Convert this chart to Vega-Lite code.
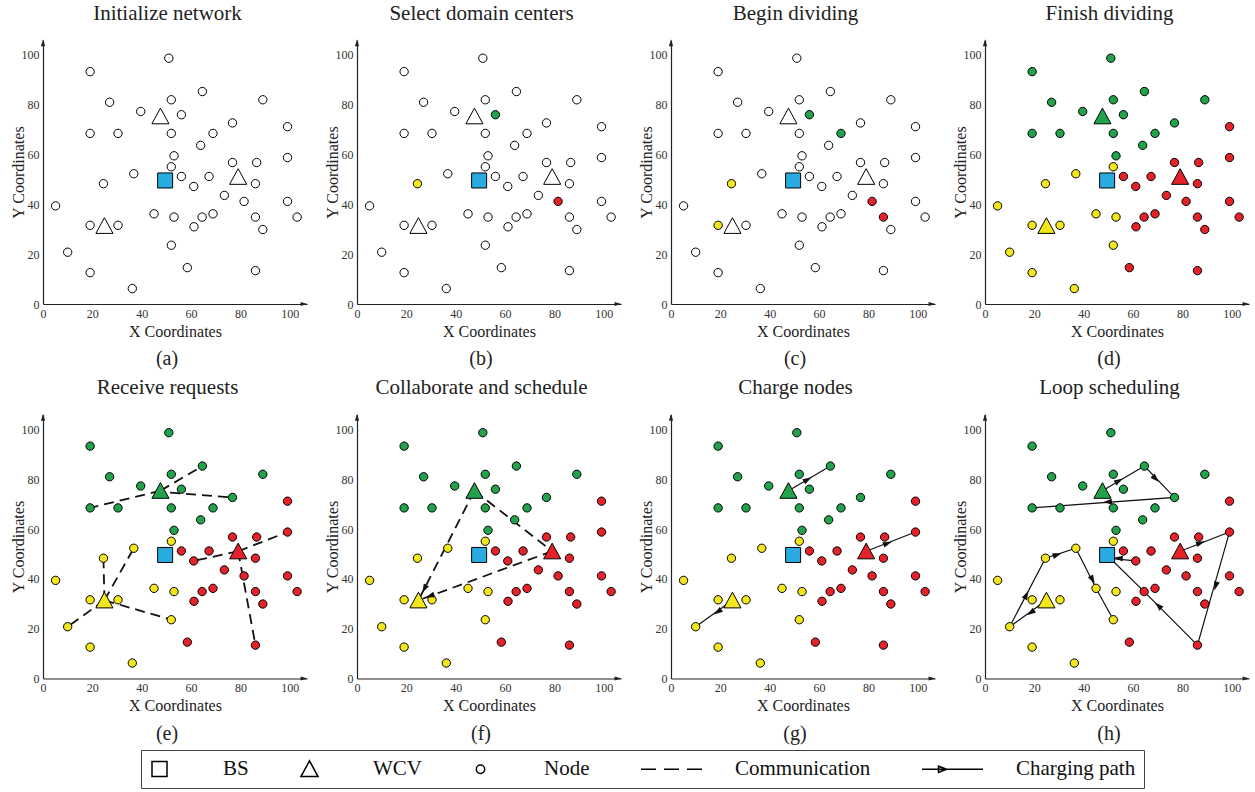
{
  "$schema": "https://vega.github.io/schema/vega-lite/v6.json",
  "background": "white",
  "padding": {"left": 10, "top": 2, "right": 2, "bottom": 1},
  "datasets": {
    "points": [
      {"kind": "BS", "domain": "base", "step": 0, "x": 49.5, "y": 49.6},
      {"kind": "WCV", "domain": "green", "step": 3, "x": 47.6, "y": 75.4},
      {"kind": "WCV", "domain": "yellow", "step": 3, "x": 24.9, "y": 31.4},
      {"kind": "WCV", "domain": "red", "step": 3, "x": 79.1, "y": 51.1},
      {"kind": "Node", "domain": "green", "step": 3, "x": 51.0, "y": 98.7},
      {"kind": "Node", "domain": "green", "step": 3, "x": 19.1, "y": 93.3},
      {"kind": "Node", "domain": "green", "step": 3, "x": 64.6, "y": 85.3},
      {"kind": "Node", "domain": "green", "step": 3, "x": 27.0, "y": 81.0},
      {"kind": "Node", "domain": "green", "step": 3, "x": 52.0, "y": 82.0},
      {"kind": "Node", "domain": "green", "step": 3, "x": 89.1, "y": 82.0},
      {"kind": "Node", "domain": "green", "step": 3, "x": 39.6, "y": 77.3},
      {"kind": "Node", "domain": "green", "step": 1, "x": 56.1, "y": 76.0},
      {"kind": "Node", "domain": "green", "step": 3, "x": 76.8, "y": 72.7},
      {"kind": "Node", "domain": "green", "step": 3, "x": 19.1, "y": 68.5},
      {"kind": "Node", "domain": "green", "step": 3, "x": 30.4, "y": 68.5},
      {"kind": "Node", "domain": "green", "step": 3, "x": 52.0, "y": 68.5},
      {"kind": "Node", "domain": "green", "step": 2, "x": 68.9, "y": 68.5},
      {"kind": "Node", "domain": "green", "step": 3, "x": 63.9, "y": 63.7},
      {"kind": "Node", "domain": "green", "step": 3, "x": 53.1, "y": 59.5},
      {"kind": "Node", "domain": "yellow", "step": 3, "x": 52.0, "y": 55.1},
      {"kind": "Node", "domain": "yellow", "step": 3, "x": 36.8, "y": 52.3},
      {"kind": "Node", "domain": "yellow", "step": 1, "x": 24.5, "y": 48.3},
      {"kind": "Node", "domain": "yellow", "step": 3, "x": 5.1, "y": 39.4},
      {"kind": "Node", "domain": "yellow", "step": 3, "x": 45.0, "y": 36.2},
      {"kind": "Node", "domain": "yellow", "step": 3, "x": 53.1, "y": 34.9},
      {"kind": "Node", "domain": "yellow", "step": 2, "x": 19.1, "y": 31.6},
      {"kind": "Node", "domain": "yellow", "step": 3, "x": 30.4, "y": 31.6},
      {"kind": "Node", "domain": "yellow", "step": 3, "x": 52.0, "y": 23.6},
      {"kind": "Node", "domain": "yellow", "step": 3, "x": 10.0, "y": 20.8},
      {"kind": "Node", "domain": "yellow", "step": 3, "x": 19.1, "y": 12.6},
      {"kind": "Node", "domain": "yellow", "step": 3, "x": 36.2, "y": 6.2},
      {"kind": "Node", "domain": "red", "step": 3, "x": 99.1, "y": 71.2},
      {"kind": "Node", "domain": "red", "step": 3, "x": 99.1, "y": 58.8},
      {"kind": "Node", "domain": "red", "step": 3, "x": 76.8, "y": 56.8},
      {"kind": "Node", "domain": "red", "step": 3, "x": 86.6, "y": 56.8},
      {"kind": "Node", "domain": "red", "step": 3, "x": 56.1, "y": 51.2},
      {"kind": "Node", "domain": "red", "step": 3, "x": 67.3, "y": 51.2},
      {"kind": "Node", "domain": "red", "step": 3, "x": 86.1, "y": 48.3},
      {"kind": "Node", "domain": "red", "step": 3, "x": 61.1, "y": 47.2},
      {"kind": "Node", "domain": "red", "step": 3, "x": 73.5, "y": 43.6},
      {"kind": "Node", "domain": "red", "step": 1, "x": 81.5, "y": 41.2},
      {"kind": "Node", "domain": "red", "step": 3, "x": 99.1, "y": 41.2},
      {"kind": "Node", "domain": "red", "step": 3, "x": 68.9, "y": 36.2},
      {"kind": "Node", "domain": "red", "step": 3, "x": 64.5, "y": 34.9},
      {"kind": "Node", "domain": "red", "step": 2, "x": 86.1, "y": 34.9},
      {"kind": "Node", "domain": "red", "step": 3, "x": 103.0, "y": 34.9},
      {"kind": "Node", "domain": "red", "step": 3, "x": 61.2, "y": 31.0},
      {"kind": "Node", "domain": "red", "step": 3, "x": 89.1, "y": 29.9},
      {"kind": "Node", "domain": "red", "step": 3, "x": 58.5, "y": 14.6},
      {"kind": "Node", "domain": "red", "step": 3, "x": 86.1, "y": 13.4}
    ],
    "comm": [
      {"panel": "e", "seg": "g1", "ord": 0, "x": 47.6, "y": 75.4}, {"panel": "e", "seg": "g1", "ord": 1, "x": 19.1, "y": 68.5},
      {"panel": "e", "seg": "g2", "ord": 0, "x": 47.6, "y": 75.4}, {"panel": "e", "seg": "g2", "ord": 1, "x": 64.6, "y": 85.3},
      {"panel": "e", "seg": "g3", "ord": 0, "x": 51.5, "y": 74.6}, {"panel": "e", "seg": "g3", "ord": 1, "x": 76.8, "y": 72.7},
      {"panel": "e", "seg": "y1", "ord": 0, "x": 24.9, "y": 31.4}, {"panel": "e", "seg": "y1", "ord": 1, "x": 24.5, "y": 48.3},
      {"panel": "e", "seg": "y2", "ord": 0, "x": 24.9, "y": 31.4}, {"panel": "e", "seg": "y2", "ord": 1, "x": 36.8, "y": 52.3},
      {"panel": "e", "seg": "y3", "ord": 0, "x": 24.9, "y": 31.4}, {"panel": "e", "seg": "y3", "ord": 1, "x": 10.0, "y": 20.8},
      {"panel": "e", "seg": "y4", "ord": 0, "x": 24.9, "y": 31.4}, {"panel": "e", "seg": "y4", "ord": 1, "x": 52.0, "y": 23.6},
      {"panel": "e", "seg": "r1", "ord": 0, "x": 79.1, "y": 51.1}, {"panel": "e", "seg": "r1", "ord": 1, "x": 61.1, "y": 47.2},
      {"panel": "e", "seg": "r2", "ord": 0, "x": 79.1, "y": 51.1}, {"panel": "e", "seg": "r2", "ord": 1, "x": 99.1, "y": 58.8},
      {"panel": "e", "seg": "r3", "ord": 0, "x": 79.1, "y": 51.1}, {"panel": "e", "seg": "r3", "ord": 1, "x": 86.1, "y": 13.4},
      {"panel": "f", "seg": "t1", "ord": 0, "x": 47.6, "y": 75.4}, {"panel": "f", "seg": "t1", "ord": 1, "x": 79.1, "y": 51.1},
      {"panel": "f", "seg": "t2", "ord": 0, "x": 47.6, "y": 75.4}, {"panel": "f", "seg": "t2", "ord": 1, "x": 24.9, "y": 31.4},
      {"panel": "f", "seg": "t3", "ord": 0, "x": 79.1, "y": 51.1}, {"panel": "f", "seg": "t3", "ord": 1, "x": 24.9, "y": 31.4}
    ],
    "paths": [
      {"panel": "g", "seg": "g", "ord": 0, "x": 47.6, "y": 75.4}, {"panel": "g", "seg": "g", "ord": 1, "x": 64.6, "y": 85.3},
      {"panel": "g", "seg": "r", "ord": 0, "x": 79.1, "y": 51.1}, {"panel": "g", "seg": "r", "ord": 1, "x": 99.1, "y": 58.8},
      {"panel": "g", "seg": "y", "ord": 0, "x": 24.9, "y": 31.4}, {"panel": "g", "seg": "y", "ord": 1, "x": 10.0, "y": 20.8},
      {"panel": "h", "seg": "g", "ord": 0, "x": 47.6, "y": 75.4}, {"panel": "h", "seg": "g", "ord": 1, "x": 64.6, "y": 85.3},
      {"panel": "h", "seg": "g", "ord": 2, "x": 76.8, "y": 72.7}, {"panel": "h", "seg": "g", "ord": 3, "x": 19.1, "y": 68.5},
      {"panel": "h", "seg": "r", "ord": 0, "x": 79.1, "y": 51.1}, {"panel": "h", "seg": "r", "ord": 1, "x": 99.1, "y": 58.8},
      {"panel": "h", "seg": "r", "ord": 2, "x": 86.1, "y": 13.4}, {"panel": "h", "seg": "r", "ord": 3, "x": 64.5, "y": 34.9},
      {"panel": "h", "seg": "r", "ord": 4, "x": 50.5, "y": 48.5},
      {"panel": "h", "seg": "r2", "ord": 0, "x": 61.1, "y": 47.2}, {"panel": "h", "seg": "r2", "ord": 1, "x": 50.5, "y": 48.2},
      {"panel": "h", "seg": "y", "ord": 0, "x": 24.9, "y": 31.4}, {"panel": "h", "seg": "y", "ord": 1, "x": 10.0, "y": 20.8},
      {"panel": "h", "seg": "y", "ord": 2, "x": 24.5, "y": 48.3}, {"panel": "h", "seg": "y", "ord": 3, "x": 36.8, "y": 52.3},
      {"panel": "h", "seg": "y", "ord": 4, "x": 45.0, "y": 36.2}, {"panel": "h", "seg": "y", "ord": 5, "x": 52.0, "y": 23.6}
    ],
    "heads": [
      {"panel": "f", "x": 27.3, "y": 36.0, "heading": 117},
      {"panel": "f", "x": 29.6, "y": 33.1, "heading": 160},
      {"panel": "g", "x": 55.4, "y": 79.9, "heading": -30},
      {"panel": "g", "x": 87.8, "y": 54.3, "heading": -21},
      {"panel": "g", "x": 18.9, "y": 26.7, "heading": 145},
      {"panel": "h", "x": 54.3, "y": 79.4, "heading": -30},
      {"panel": "h", "x": 69.2, "y": 80.2, "heading": 45},
      {"panel": "h", "x": 49.6, "y": 70.9, "heading": 176},
      {"panel": "h", "x": 87.4, "y": 54.5, "heading": -21},
      {"panel": "h", "x": 93.5, "y": 37.1, "heading": 106},
      {"panel": "h", "x": 70.2, "y": 29.3, "heading": -136},
      {"panel": "h", "x": 54.0, "y": 48.3, "heading": -175},
      {"panel": "h", "x": 18.5, "y": 26.4, "heading": 145},
      {"panel": "h", "x": 16.8, "y": 33.6, "heading": -62},
      {"panel": "h", "x": 29.3, "y": 49.7, "heading": -18},
      {"panel": "h", "x": 43.6, "y": 39.6, "heading": 62}
    ],
    "tips": [
      {"x": 105.8, "y": 0, "heading": 0},
      {"x": 0, "y": 104.9, "heading": -90}
    ]
  },
  "columns": 4,
  "spacing": {"row": 110.5, "column": 50},
  "bounds": "flush",
  "concat": [
    {
      "width": 264, "height": 264,
      "title": {"text": "(a)", "orient": "bottom"},
      "resolve": {"axis": {"x": "independent"}},
      "encoding": {
        "x": {"field": "x", "type": "quantitative", "scale": {"domain": [0, 107], "nice": false, "zero": false}, "axis": null},
        "y": {"field": "y", "type": "quantitative", "scale": {"domain": [0, 106], "nice": false, "zero": false}, "axis": {"values": [0, 20, 40, 60, 80, 100], "title": "Y Coordinates"}}
      },
      "layer": [
        {"data": {"name": "points"}, "transform": [{"filter": "datum.kind === 'Node'"}], "mark": {"type": "point", "filled": true, "size": 361, "strokeWidth": 0, "opacity": 1, "shape": "M-0.44,0A0.44,0.44,0,1,1,0.44,0A0.44,0.44,0,1,1,-0.44,0Z"},
         "encoding": {
           "x": {"field": "x", "type": "quantitative", "axis": {"orient": "bottom", "values": [0, 20, 40, 60, 80, 100], "title": "X Coordinates"}},
           "fill": {"condition": {"test": "datum.step <= 0", "field": "domain", "type": "nominal", "scale": {"domain": ["base", "green", "yellow", "red"], "range": ["#29abe2", "#21a24b", "#f3e61c", "#e5222a"]}, "legend": null}, "value": "white"}
         }},
        {"data": {"name": "points"}, "transform": [{"filter": "datum.kind === 'WCV'"}], "mark": {"type": "point", "filled": true, "size": 361, "strokeWidth": 0, "opacity": 1, "shape": "M0,-0.85L0.9,0.8L-0.9,0.8Z"},
         "encoding": {"fill": {"condition": {"test": "datum.step <= 0", "field": "domain", "type": "nominal", "legend": null}, "value": "white"}}},
        {"data": {"name": "points"}, "transform": [{"filter": "datum.kind === 'BS'"}], "mark": {"type": "point", "filled": true, "size": 361, "strokeWidth": 0, "opacity": 1, "shape": "M-0.79,-0.79H0.79V0.79H-0.79Z"},
         "encoding": {"fill": {"condition": {"test": "datum.step <= 0", "field": "domain", "type": "nominal", "legend": null}, "value": "white"}}},
        {"data": {"name": "points"}, "mark": {"type": "point", "filled": false, "color": "black", "size": 361, "strokeWidth": 1, "opacity": 1},
         "encoding": {
           "shape": {"field": "kind", "type": "nominal",
             "scale": {"domain": ["BS", "WCV", "Node", "Communication", "Charging path"],
               "range": ["M-0.79,-0.79H0.79V0.79H-0.79Z", "M0,-0.85L0.9,0.8L-0.9,0.8Z", "M-0.44,0A0.44,0.44,0,1,1,0.44,0A0.44,0.44,0,1,1,-0.44,0Z", "M-3.21,0H-1.63M-0.79,0H0.79M1.63,0H3.21", "M-3.21,0H3.21M-0.63,0L-1.47,-0.32L-1.47,0.32Z"]},
             "legend": {"title": null, "orient": "none", "legendX": 98, "legendY": 710, "direction": "horizontal", "symbolSize": 361, "symbolOffset": 0, "labelFont": "Liberation Serif", "labelFontSize": 21, "labelColor": "#111", "labelOffset": 53, "columnPadding": 48, "padding": 8, "strokeColor": "#444", "symbolStrokeColor": "black", "symbolStrokeWidth": 1.5, "symbolOpacity": 1}}
         }},
        {"data": {"name": "tips"}, "mark": {"type": "point", "shape": "M1,0L-1,-0.6L-1,0.6Z", "filled": true, "color": "#222", "size": 49, "opacity": 1},
         "encoding": {"x": {"field": "x", "type": "quantitative", "axis": {"orient": "top", "title": "Initialize network", "domain": false, "labels": false, "ticks": false, "titleFontSize": 21, "titlePadding": 17, "titleX": 124, "titleColor": "#222"}}, "angle": {"field": "heading", "type": "quantitative", "scale": null}}}
      ]
    },
    {
      "width": 264, "height": 264,
      "title": {"text": "(b)", "orient": "bottom"},
      "resolve": {"axis": {"x": "independent"}},
      "encoding": {
        "x": {"field": "x", "type": "quantitative", "scale": {"domain": [0, 107], "nice": false, "zero": false}, "axis": null},
        "y": {"field": "y", "type": "quantitative", "scale": {"domain": [0, 106], "nice": false, "zero": false}, "axis": {"values": [0, 20, 40, 60, 80, 100], "title": "Y Coordinates"}}
      },
      "layer": [
        {"data": {"name": "points"}, "transform": [{"filter": "datum.kind === 'Node'"}], "mark": {"type": "point", "filled": true, "size": 361, "strokeWidth": 0, "opacity": 1, "shape": "M-0.44,0A0.44,0.44,0,1,1,0.44,0A0.44,0.44,0,1,1,-0.44,0Z"},
         "encoding": {
           "x": {"field": "x", "type": "quantitative", "axis": {"orient": "bottom", "values": [0, 20, 40, 60, 80, 100], "title": "X Coordinates"}},
           "fill": {"condition": {"test": "datum.step <= 1", "field": "domain", "type": "nominal", "legend": null}, "value": "white"}
         }},
        {"data": {"name": "points"}, "transform": [{"filter": "datum.kind === 'WCV'"}], "mark": {"type": "point", "filled": true, "size": 361, "strokeWidth": 0, "opacity": 1, "shape": "M0,-0.85L0.9,0.8L-0.9,0.8Z"},
         "encoding": {"fill": {"condition": {"test": "datum.step <= 1", "field": "domain", "type": "nominal", "legend": null}, "value": "white"}}},
        {"data": {"name": "points"}, "transform": [{"filter": "datum.kind === 'BS'"}], "mark": {"type": "point", "filled": true, "size": 361, "strokeWidth": 0, "opacity": 1, "shape": "M-0.79,-0.79H0.79V0.79H-0.79Z"},
         "encoding": {"fill": {"condition": {"test": "datum.step <= 1", "field": "domain", "type": "nominal", "legend": null}, "value": "white"}}},
        {"data": {"name": "points"}, "mark": {"type": "point", "filled": false, "color": "black", "size": 361, "strokeWidth": 1, "opacity": 1},
         "encoding": {"shape": {"field": "kind", "type": "nominal"}}},
        {"data": {"name": "tips"}, "mark": {"type": "point", "shape": "M1,0L-1,-0.6L-1,0.6Z", "filled": true, "color": "#222", "size": 49, "opacity": 1},
         "encoding": {"x": {"field": "x", "type": "quantitative", "axis": {"orient": "top", "title": "Select domain centers", "domain": false, "labels": false, "ticks": false, "titleFontSize": 21, "titlePadding": 17, "titleX": 124, "titleColor": "#222"}}, "angle": {"field": "heading", "type": "quantitative", "scale": null}}}
      ]
    },
    {
      "width": 264, "height": 264,
      "title": {"text": "(c)", "orient": "bottom"},
      "resolve": {"axis": {"x": "independent"}},
      "encoding": {
        "x": {"field": "x", "type": "quantitative", "scale": {"domain": [0, 107], "nice": false, "zero": false}, "axis": null},
        "y": {"field": "y", "type": "quantitative", "scale": {"domain": [0, 106], "nice": false, "zero": false}, "axis": {"values": [0, 20, 40, 60, 80, 100], "title": "Y Coordinates"}}
      },
      "layer": [
        {"data": {"name": "points"}, "transform": [{"filter": "datum.kind === 'Node'"}], "mark": {"type": "point", "filled": true, "size": 361, "strokeWidth": 0, "opacity": 1, "shape": "M-0.44,0A0.44,0.44,0,1,1,0.44,0A0.44,0.44,0,1,1,-0.44,0Z"},
         "encoding": {
           "x": {"field": "x", "type": "quantitative", "axis": {"orient": "bottom", "values": [0, 20, 40, 60, 80, 100], "title": "X Coordinates"}},
           "fill": {"condition": {"test": "datum.step <= 2", "field": "domain", "type": "nominal", "legend": null}, "value": "white"}
         }},
        {"data": {"name": "points"}, "transform": [{"filter": "datum.kind === 'WCV'"}], "mark": {"type": "point", "filled": true, "size": 361, "strokeWidth": 0, "opacity": 1, "shape": "M0,-0.85L0.9,0.8L-0.9,0.8Z"},
         "encoding": {"fill": {"condition": {"test": "datum.step <= 2", "field": "domain", "type": "nominal", "legend": null}, "value": "white"}}},
        {"data": {"name": "points"}, "transform": [{"filter": "datum.kind === 'BS'"}], "mark": {"type": "point", "filled": true, "size": 361, "strokeWidth": 0, "opacity": 1, "shape": "M-0.79,-0.79H0.79V0.79H-0.79Z"},
         "encoding": {"fill": {"condition": {"test": "datum.step <= 2", "field": "domain", "type": "nominal", "legend": null}, "value": "white"}}},
        {"data": {"name": "points"}, "mark": {"type": "point", "filled": false, "color": "black", "size": 361, "strokeWidth": 1, "opacity": 1},
         "encoding": {"shape": {"field": "kind", "type": "nominal"}}},
        {"data": {"name": "tips"}, "mark": {"type": "point", "shape": "M1,0L-1,-0.6L-1,0.6Z", "filled": true, "color": "#222", "size": 49, "opacity": 1},
         "encoding": {"x": {"field": "x", "type": "quantitative", "axis": {"orient": "top", "title": "Begin dividing", "domain": false, "labels": false, "ticks": false, "titleFontSize": 21, "titlePadding": 17, "titleX": 124, "titleColor": "#222"}}, "angle": {"field": "heading", "type": "quantitative", "scale": null}}}
      ]
    },
    {
      "width": 264, "height": 264,
      "title": {"text": "(d)", "orient": "bottom"},
      "resolve": {"axis": {"x": "independent"}},
      "encoding": {
        "x": {"field": "x", "type": "quantitative", "scale": {"domain": [0, 107], "nice": false, "zero": false}, "axis": null},
        "y": {"field": "y", "type": "quantitative", "scale": {"domain": [0, 106], "nice": false, "zero": false}, "axis": {"values": [0, 20, 40, 60, 80, 100], "title": "Y Coordinates"}}
      },
      "layer": [
        {"data": {"name": "points"}, "transform": [{"filter": "datum.kind === 'Node'"}], "mark": {"type": "point", "filled": true, "size": 361, "strokeWidth": 0, "opacity": 1, "shape": "M-0.44,0A0.44,0.44,0,1,1,0.44,0A0.44,0.44,0,1,1,-0.44,0Z"},
         "encoding": {
           "x": {"field": "x", "type": "quantitative", "axis": {"orient": "bottom", "values": [0, 20, 40, 60, 80, 100], "title": "X Coordinates"}},
           "fill": {"condition": {"test": "datum.step <= 3", "field": "domain", "type": "nominal", "legend": null}, "value": "white"}
         }},
        {"data": {"name": "points"}, "transform": [{"filter": "datum.kind === 'WCV'"}], "mark": {"type": "point", "filled": true, "size": 361, "strokeWidth": 0, "opacity": 1, "shape": "M0,-0.85L0.9,0.8L-0.9,0.8Z"},
         "encoding": {"fill": {"condition": {"test": "datum.step <= 3", "field": "domain", "type": "nominal", "legend": null}, "value": "white"}}},
        {"data": {"name": "points"}, "transform": [{"filter": "datum.kind === 'BS'"}], "mark": {"type": "point", "filled": true, "size": 361, "strokeWidth": 0, "opacity": 1, "shape": "M-0.79,-0.79H0.79V0.79H-0.79Z"},
         "encoding": {"fill": {"condition": {"test": "datum.step <= 3", "field": "domain", "type": "nominal", "legend": null}, "value": "white"}}},
        {"data": {"name": "points"}, "mark": {"type": "point", "filled": false, "color": "black", "size": 361, "strokeWidth": 1, "opacity": 1},
         "encoding": {"shape": {"field": "kind", "type": "nominal"}}},
        {"data": {"name": "tips"}, "mark": {"type": "point", "shape": "M1,0L-1,-0.6L-1,0.6Z", "filled": true, "color": "#222", "size": 49, "opacity": 1},
         "encoding": {"x": {"field": "x", "type": "quantitative", "axis": {"orient": "top", "title": "Finish dividing", "domain": false, "labels": false, "ticks": false, "titleFontSize": 21, "titlePadding": 17, "titleX": 124, "titleColor": "#222"}}, "angle": {"field": "heading", "type": "quantitative", "scale": null}}}
      ]
    },
    {
      "width": 264, "height": 264,
      "title": {"text": "(e)", "orient": "bottom"},
      "resolve": {"axis": {"x": "independent"}},
      "encoding": {
        "x": {"field": "x", "type": "quantitative", "scale": {"domain": [0, 107], "nice": false, "zero": false}, "axis": null},
        "y": {"field": "y", "type": "quantitative", "scale": {"domain": [0, 106], "nice": false, "zero": false}, "axis": {"values": [0, 20, 40, 60, 80, 100], "title": "Y Coordinates"}}
      },
      "layer": [
        {"data": {"name": "comm"}, "transform": [{"filter": "datum.panel === 'e'"}], "mark": {"type": "line", "color": "#111", "strokeWidth": 1.8, "strokeDash": [10, 6]}, "encoding": {"detail": {"field": "seg"}, "order": {"field": "ord", "type": "quantitative"}}},
        {"data": {"name": "points"}, "transform": [{"filter": "datum.kind === 'Node'"}], "mark": {"type": "point", "filled": true, "size": 361, "strokeWidth": 0, "opacity": 1, "shape": "M-0.44,0A0.44,0.44,0,1,1,0.44,0A0.44,0.44,0,1,1,-0.44,0Z"},
         "encoding": {
           "x": {"field": "x", "type": "quantitative", "axis": {"orient": "bottom", "values": [0, 20, 40, 60, 80, 100], "title": "X Coordinates"}},
           "fill": {"condition": {"test": "datum.step <= 3", "field": "domain", "type": "nominal", "legend": null}, "value": "white"}
         }},
        {"data": {"name": "points"}, "transform": [{"filter": "datum.kind === 'WCV'"}], "mark": {"type": "point", "filled": true, "size": 361, "strokeWidth": 0, "opacity": 1, "shape": "M0,-0.85L0.9,0.8L-0.9,0.8Z"},
         "encoding": {"fill": {"condition": {"test": "datum.step <= 3", "field": "domain", "type": "nominal", "legend": null}, "value": "white"}}},
        {"data": {"name": "points"}, "transform": [{"filter": "datum.kind === 'BS'"}], "mark": {"type": "point", "filled": true, "size": 361, "strokeWidth": 0, "opacity": 1, "shape": "M-0.79,-0.79H0.79V0.79H-0.79Z"},
         "encoding": {"fill": {"condition": {"test": "datum.step <= 3", "field": "domain", "type": "nominal", "legend": null}, "value": "white"}}},
        {"data": {"name": "points"}, "mark": {"type": "point", "filled": false, "color": "black", "size": 361, "strokeWidth": 1, "opacity": 1},
         "encoding": {"shape": {"field": "kind", "type": "nominal"}}},
        {"data": {"name": "tips"}, "mark": {"type": "point", "shape": "M1,0L-1,-0.6L-1,0.6Z", "filled": true, "color": "#222", "size": 49, "opacity": 1},
         "encoding": {"x": {"field": "x", "type": "quantitative", "axis": {"orient": "top", "title": "Receive requests", "domain": false, "labels": false, "ticks": false, "titleFontSize": 21, "titlePadding": 17, "titleX": 124, "titleColor": "#222"}}, "angle": {"field": "heading", "type": "quantitative", "scale": null}}}
      ]
    },
    {
      "width": 264, "height": 264,
      "title": {"text": "(f)", "orient": "bottom"},
      "resolve": {"axis": {"x": "independent"}},
      "encoding": {
        "x": {"field": "x", "type": "quantitative", "scale": {"domain": [0, 107], "nice": false, "zero": false}, "axis": null},
        "y": {"field": "y", "type": "quantitative", "scale": {"domain": [0, 106], "nice": false, "zero": false}, "axis": {"values": [0, 20, 40, 60, 80, 100], "title": "Y Coordinates"}}
      },
      "layer": [
        {"data": {"name": "comm"}, "transform": [{"filter": "datum.panel === 'f'"}], "mark": {"type": "line", "color": "#111", "strokeWidth": 1.8, "strokeDash": [10, 6]}, "encoding": {"detail": {"field": "seg"}, "order": {"field": "ord", "type": "quantitative"}}},
        {"data": {"name": "points"}, "transform": [{"filter": "datum.kind === 'Node'"}], "mark": {"type": "point", "filled": true, "size": 361, "strokeWidth": 0, "opacity": 1, "shape": "M-0.44,0A0.44,0.44,0,1,1,0.44,0A0.44,0.44,0,1,1,-0.44,0Z"},
         "encoding": {
           "x": {"field": "x", "type": "quantitative", "axis": {"orient": "bottom", "values": [0, 20, 40, 60, 80, 100], "title": "X Coordinates"}},
           "fill": {"condition": {"test": "datum.step <= 3", "field": "domain", "type": "nominal", "legend": null}, "value": "white"}
         }},
        {"data": {"name": "points"}, "transform": [{"filter": "datum.kind === 'WCV'"}], "mark": {"type": "point", "filled": true, "size": 361, "strokeWidth": 0, "opacity": 1, "shape": "M0,-0.85L0.9,0.8L-0.9,0.8Z"},
         "encoding": {"fill": {"condition": {"test": "datum.step <= 3", "field": "domain", "type": "nominal", "legend": null}, "value": "white"}}},
        {"data": {"name": "points"}, "transform": [{"filter": "datum.kind === 'BS'"}], "mark": {"type": "point", "filled": true, "size": 361, "strokeWidth": 0, "opacity": 1, "shape": "M-0.79,-0.79H0.79V0.79H-0.79Z"},
         "encoding": {"fill": {"condition": {"test": "datum.step <= 3", "field": "domain", "type": "nominal", "legend": null}, "value": "white"}}},
        {"data": {"name": "points"}, "mark": {"type": "point", "filled": false, "color": "black", "size": 361, "strokeWidth": 1, "opacity": 1},
         "encoding": {"shape": {"field": "kind", "type": "nominal"}}},
        {"data": {"name": "heads"}, "transform": [{"filter": "datum.panel === 'f'"}], "mark": {"type": "point", "shape": "M1,0L-1,-0.65L-1,0.65Z", "filled": true, "color": "#111", "size": 81, "opacity": 1}, "encoding": {"angle": {"field": "heading", "type": "quantitative", "scale": null}}},
        {"data": {"name": "tips"}, "mark": {"type": "point", "shape": "M1,0L-1,-0.6L-1,0.6Z", "filled": true, "color": "#222", "size": 49, "opacity": 1},
         "encoding": {"x": {"field": "x", "type": "quantitative", "axis": {"orient": "top", "title": "Collaborate and schedule", "domain": false, "labels": false, "ticks": false, "titleFontSize": 21, "titlePadding": 17, "titleX": 124, "titleColor": "#222"}}, "angle": {"field": "heading", "type": "quantitative", "scale": null}}}
      ]
    },
    {
      "width": 264, "height": 264,
      "title": {"text": "(g)", "orient": "bottom"},
      "resolve": {"axis": {"x": "independent"}},
      "encoding": {
        "x": {"field": "x", "type": "quantitative", "scale": {"domain": [0, 107], "nice": false, "zero": false}, "axis": null},
        "y": {"field": "y", "type": "quantitative", "scale": {"domain": [0, 106], "nice": false, "zero": false}, "axis": {"values": [0, 20, 40, 60, 80, 100], "title": "Y Coordinates"}}
      },
      "layer": [
        {"data": {"name": "paths"}, "transform": [{"filter": "datum.panel === 'g'"}], "mark": {"type": "line", "color": "#111", "strokeWidth": 1.2}, "encoding": {"detail": {"field": "seg"}, "order": {"field": "ord", "type": "quantitative"}}},
        {"data": {"name": "points"}, "transform": [{"filter": "datum.kind === 'Node'"}], "mark": {"type": "point", "filled": true, "size": 361, "strokeWidth": 0, "opacity": 1, "shape": "M-0.44,0A0.44,0.44,0,1,1,0.44,0A0.44,0.44,0,1,1,-0.44,0Z"},
         "encoding": {
           "x": {"field": "x", "type": "quantitative", "axis": {"orient": "bottom", "values": [0, 20, 40, 60, 80, 100], "title": "X Coordinates"}},
           "fill": {"condition": {"test": "datum.step <= 3", "field": "domain", "type": "nominal", "legend": null}, "value": "white"}
         }},
        {"data": {"name": "points"}, "transform": [{"filter": "datum.kind === 'WCV'"}], "mark": {"type": "point", "filled": true, "size": 361, "strokeWidth": 0, "opacity": 1, "shape": "M0,-0.85L0.9,0.8L-0.9,0.8Z"},
         "encoding": {"fill": {"condition": {"test": "datum.step <= 3", "field": "domain", "type": "nominal", "legend": null}, "value": "white"}}},
        {"data": {"name": "points"}, "transform": [{"filter": "datum.kind === 'BS'"}], "mark": {"type": "point", "filled": true, "size": 361, "strokeWidth": 0, "opacity": 1, "shape": "M-0.79,-0.79H0.79V0.79H-0.79Z"},
         "encoding": {"fill": {"condition": {"test": "datum.step <= 3", "field": "domain", "type": "nominal", "legend": null}, "value": "white"}}},
        {"data": {"name": "points"}, "mark": {"type": "point", "filled": false, "color": "black", "size": 361, "strokeWidth": 1, "opacity": 1},
         "encoding": {"shape": {"field": "kind", "type": "nominal"}}},
        {"data": {"name": "heads"}, "transform": [{"filter": "datum.panel === 'g'"}], "mark": {"type": "point", "shape": "M1,0L-1,-0.65L-1,0.65Z", "filled": true, "color": "#111", "size": 81, "opacity": 1}, "encoding": {"angle": {"field": "heading", "type": "quantitative", "scale": null}}},
        {"data": {"name": "tips"}, "mark": {"type": "point", "shape": "M1,0L-1,-0.6L-1,0.6Z", "filled": true, "color": "#222", "size": 49, "opacity": 1},
         "encoding": {"x": {"field": "x", "type": "quantitative", "axis": {"orient": "top", "title": "Charge nodes", "domain": false, "labels": false, "ticks": false, "titleFontSize": 21, "titlePadding": 17, "titleX": 124, "titleColor": "#222"}}, "angle": {"field": "heading", "type": "quantitative", "scale": null}}}
      ]
    },
    {
      "width": 264, "height": 264,
      "title": {"text": "(h)", "orient": "bottom"},
      "resolve": {"axis": {"x": "independent"}},
      "encoding": {
        "x": {"field": "x", "type": "quantitative", "scale": {"domain": [0, 107], "nice": false, "zero": false}, "axis": null},
        "y": {"field": "y", "type": "quantitative", "scale": {"domain": [0, 106], "nice": false, "zero": false}, "axis": {"values": [0, 20, 40, 60, 80, 100], "title": "Y Coordinates"}}
      },
      "layer": [
        {"data": {"name": "paths"}, "transform": [{"filter": "datum.panel === 'h'"}], "mark": {"type": "line", "color": "#111", "strokeWidth": 1.2}, "encoding": {"detail": {"field": "seg"}, "order": {"field": "ord", "type": "quantitative"}}},
        {"data": {"name": "points"}, "transform": [{"filter": "datum.kind === 'Node'"}], "mark": {"type": "point", "filled": true, "size": 361, "strokeWidth": 0, "opacity": 1, "shape": "M-0.44,0A0.44,0.44,0,1,1,0.44,0A0.44,0.44,0,1,1,-0.44,0Z"},
         "encoding": {
           "x": {"field": "x", "type": "quantitative", "axis": {"orient": "bottom", "values": [0, 20, 40, 60, 80, 100], "title": "X Coordinates"}},
           "fill": {"condition": {"test": "datum.step <= 3", "field": "domain", "type": "nominal", "legend": null}, "value": "white"}
         }},
        {"data": {"name": "points"}, "transform": [{"filter": "datum.kind === 'WCV'"}], "mark": {"type": "point", "filled": true, "size": 361, "strokeWidth": 0, "opacity": 1, "shape": "M0,-0.85L0.9,0.8L-0.9,0.8Z"},
         "encoding": {"fill": {"condition": {"test": "datum.step <= 3", "field": "domain", "type": "nominal", "legend": null}, "value": "white"}}},
        {"data": {"name": "points"}, "transform": [{"filter": "datum.kind === 'BS'"}], "mark": {"type": "point", "filled": true, "size": 361, "strokeWidth": 0, "opacity": 1, "shape": "M-0.79,-0.79H0.79V0.79H-0.79Z"},
         "encoding": {"fill": {"condition": {"test": "datum.step <= 3", "field": "domain", "type": "nominal", "legend": null}, "value": "white"}}},
        {"data": {"name": "points"}, "mark": {"type": "point", "filled": false, "color": "black", "size": 361, "strokeWidth": 1, "opacity": 1},
         "encoding": {"shape": {"field": "kind", "type": "nominal"}}},
        {"data": {"name": "heads"}, "transform": [{"filter": "datum.panel === 'h'"}], "mark": {"type": "point", "shape": "M1,0L-1,-0.65L-1,0.65Z", "filled": true, "color": "#111", "size": 81, "opacity": 1}, "encoding": {"angle": {"field": "heading", "type": "quantitative", "scale": null}}},
        {"data": {"name": "tips"}, "mark": {"type": "point", "shape": "M1,0L-1,-0.6L-1,0.6Z", "filled": true, "color": "#222", "size": 49, "opacity": 1},
         "encoding": {"x": {"field": "x", "type": "quantitative", "axis": {"orient": "top", "title": "Loop scheduling", "domain": false, "labels": false, "ticks": false, "titleFontSize": 21, "titlePadding": 17, "titleX": 124, "titleColor": "#222"}}, "angle": {"field": "heading", "type": "quantitative", "scale": null}}}
      ]
    }
  ],
  "config": {
    "font": "Liberation Serif",
    "view": {"stroke": null},
    "axis": {"domainColor": "#222", "domainWidth": 1.2, "ticks": false, "grid": false, "labelFont": "Liberation Serif", "labelFontSize": 12, "labelColor": "#333", "labelPadding": 4, "labelFlush": false, "titleFont": "Liberation Serif", "titleFontSize": 16, "titleFontWeight": "normal", "titleColor": "#222"},
    "axisY": {"titleX": -17},
    "title": {"font": "Liberation Serif", "fontSize": 20, "fontWeight": "normal", "color": "#222", "offset": 10, "dx": -8}
  }
}
